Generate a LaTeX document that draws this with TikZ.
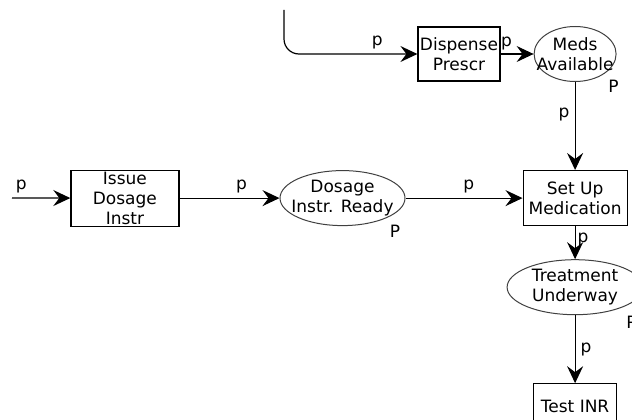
\documentclass[tikz,border=0pt]{standalone}
\usepackage{fontspec}
\setmainfont{DejaVu Sans}
\usetikzlibrary{positioning,arrows.meta,shapes.geometric}

\begin{document}
\begin{tikzpicture}[x=1pt,y=-1pt,line width=1.2pt,
  font=\fontsize{17}{20}\selectfont,
  trans/.style={draw,rectangle,inner sep=0pt,align=center,
    minimum width=82pt,minimum height=54pt},
  place/.style={draw=black!75,line width=1pt,ellipse,inner xsep=-14pt,inner ysep=0pt,
    align=center,minimum width=82pt,minimum height=55pt},
  lbl/.style={inner sep=1pt},
  arc/.style={-{Stealth[length=17pt,width=16pt,inset=6pt]}}]

  \useasboundingbox (0,0) rectangle (632,420);

  % transitions and places
  \node[trans] (dispense) at (459,54) {Dispense\\Prescr};
  \node[place,right=33pt of dispense] (meds) {Meds\\Available};
  \node[trans,minimum width=104pt,minimum height=55pt,below=88pt of meds] (setup) {Set Up\\Medication};
  \node[place,minimum width=125pt,left=117pt of setup] (ready) {Dosage\\Instr. Ready};
  \node[trans,minimum width=108pt,minimum height=56pt,left=100pt of ready] (issue) {Issue\\Dosage\\Instr};
  \node[place,minimum width=136pt,below=33pt of setup] (underway) {Treatment\\Underway};
  \node[trans,minimum width=83pt,minimum height=46pt,below=68pt of underway] (inr) {Test INR};

  % loose ends
  \coordinate (feed) at (284,10);
  \coordinate (entry) at (12,198);

  % arcs
  \draw[arc,rounded corners=15pt] (feed) |- node[lbl,pos=0.85,above=3pt] (feedp) {p} (dispense);
  \draw[arc] (dispense) -- node[lbl,pos=0,above right=2pt and -1pt] (dispp) {p} (meds);
  \draw[arc] (meds) -- node[lbl,pos=0.37,left=4pt] (medsp) {p} (setup);
  \draw[arc] (entry) -- node[lbl,pos=0.16,above=3pt] (entryp) {p} (issue);
  \draw[arc] (issue) -- node[lbl,pos=0.62,above=3pt] (issuep) {p} (ready);
  \draw[arc] (ready) -- node[lbl,pos=0.54,above=3pt] (readyp) {p} (setup);
  \draw[arc] (setup) -- node[lbl,pos=0.4,right=1pt] (setupp) {p} (underway);
  \draw[arc] (underway) -- node[lbl,pos=0.5,right=4pt] (underwayp) {p} (inr);

  % place markers
  \node[lbl] (medsP) at ([shift={(9,13)}]meds.south east) {P};
  \node[lbl] (readyP) at ([shift={(8,13)}]ready.south east) {P};
  \node[lbl] (underwayP) at ([shift={(8,15)}]underway.south east) {P};
\end{tikzpicture}
\end{document}
